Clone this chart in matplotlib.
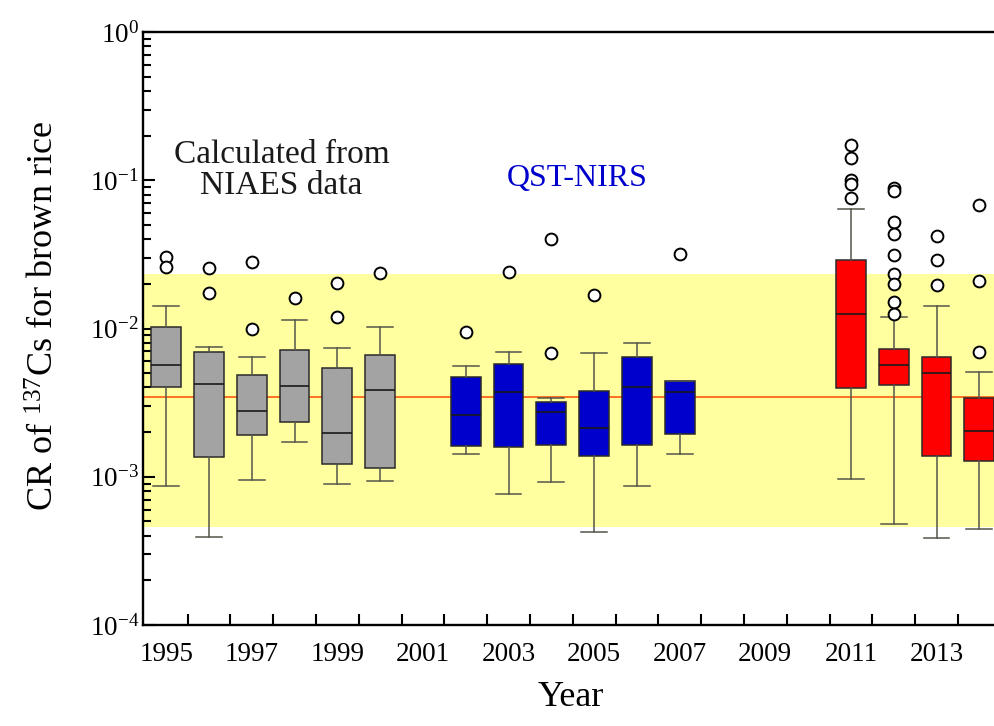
import matplotlib
matplotlib.use('Agg')
import matplotlib.pyplot as plt
import matplotlib.ticker as mticker
import numpy as np

plt.rcParams['font.family'] = ['Liberation Serif', 'DejaVu Serif']
plt.rcParams['mathtext.fontset'] = 'custom'
plt.rcParams['mathtext.rm'] = 'Liberation Serif'
plt.rcParams['axes.unicode_minus'] = False

# box statistics (CR values)
years = [1995, 1996, 1997, 1998, 1999, 2000,
         2002, 2003, 2004, 2005, 2006, 2007,
         2011, 2012, 2013, 2014]
whislo = [8.6e-4, 3.9e-4, 9.5e-4, 1.72e-3, 8.9e-4, 9.4e-4,
          1.42e-3, 7.7e-4, 9.2e-4, 4.25e-4, 8.7e-4, 1.42e-3,
          9.7e-4, 4.8e-4, 3.87e-4, 4.47e-4]
q1 = [4.0e-3, 1.35e-3, 1.91e-3, 2.35e-3, 1.21e-3, 1.14e-3,
      1.60e-3, 1.58e-3, 1.65e-3, 1.37e-3, 1.65e-3, 1.94e-3,
      3.96e-3, 4.16e-3, 1.39e-3, 1.28e-3]
med = [5.65e-3, 4.2e-3, 2.78e-3, 4.07e-3, 1.97e-3, 3.87e-3,
       2.61e-3, 3.75e-3, 2.72e-3, 2.13e-3, 4.05e-3, 3.75e-3,
       1.25e-2, 5.63e-3, 4.99e-3, 2.05e-3]
q3 = [1.02e-2, 6.98e-3, 4.83e-3, 7.16e-3, 5.41e-3, 6.62e-3,
      4.69e-3, 5.76e-3, 3.18e-3, 3.79e-3, 6.39e-3, 4.43e-3,
      2.90e-2, 7.32e-3, 6.41e-3, 3.42e-3]
whishi = [1.42e-2, 7.46e-3, 6.39e-3, 1.14e-2, 7.38e-3, 1.03e-2,
          5.58e-3, 6.9e-3, 3.4e-3, 6.87e-3, 8.02e-3, 4.43e-3,
          6.37e-2, 1.20e-2, 1.41e-2, 5.05e-3]
fliers = [[3.05e-2, 2.61e-2], [2.55e-2, 1.73e-2], [2.82e-2, 1.0e-2],
          [1.6e-2], [2.02e-2, 1.2e-2], [2.38e-2],
          [9.4e-3], [2.39e-2], [3.99e-2, 6.8e-3], [1.67e-2], [], [3.17e-2],
          [0.173, 0.141, 0.1004, 0.0944, 0.0759],
          [0.0884, 0.0847, 0.0519, 0.0435, 0.0311, 0.0233, 0.0200, 0.0151, 0.01246],
          [0.0418, 0.0292, 0.0198],
          [0.0685, 0.0208, 6.96e-3]]
groups = ['NIAES'] * 6 + ['QST'] * 6 + ['after'] * 4
group_colors = {'NIAES': '#A3A3A3', 'QST': '#0000CC', 'after': '#FF0000'}

band_low, band_high = 4.58e-4, 2.33e-2
ref_value = 3.43e-3

fig = plt.figure(figsize=(9.95, 7.26), dpi=100)
px = 42.8  # pixels per year
x0 = 1994.46
x1 = 2015.5
ax = fig.add_axes([143 / 995, 101 / 726, (x1 - x0) * px / 995, 593 / 726])

ax.axhspan(band_low, band_high, color='#FFFFA0', lw=0, zorder=0)
ax.axhline(ref_value, color='#FF4A00', lw=1.1, zorder=1)

stats = []
for i, y in enumerate(years):
    stats.append(dict(med=med[i], q1=q1[i], q3=q3[i],
                      whislo=whislo[i], whishi=whishi[i], fliers=fliers[i]))

bp = ax.bxp(stats, positions=years, widths=0.7, capwidths=0.6,
            patch_artist=True, manage_ticks=False,
            boxprops=dict(edgecolor='#2a2a2a', linewidth=1.1),
            medianprops=dict(color='#1a1a1a', linewidth=1.2),
            whiskerprops=dict(color='#55554a', linewidth=1.1),
            capprops=dict(color='#55554a', linewidth=1.1),
            flierprops=dict(marker='o', markerfacecolor='white',
                            markeredgecolor='black', markersize=8.5,
                            markeredgewidth=1.4))
for patch, g in zip(bp['boxes'], groups):
    patch.set_facecolor(group_colors[g])
for fl in bp['fliers']:
    fl.set_zorder(4)

ax.set_yscale('log')
ax.set_ylim(1e-4, 1)
ax.set_xlim(x0, x1)

ax.yaxis.set_major_locator(mticker.LogLocator(base=10, numticks=10))
ax.yaxis.set_minor_locator(mticker.LogLocator(base=10, subs=np.arange(2, 10), numticks=10))
ax.yaxis.set_minor_formatter(mticker.NullFormatter())

label_years = list(range(1995, 2015, 2))
ax.set_xticks(label_years)
ax.set_xticklabels([str(y) for y in label_years])
ax.set_xticks(np.arange(1995.5, 2015.5, 1.0), minor=True)

ax.tick_params(axis='x', which='major', length=0, labelsize=19.5, pad=12)
ax.tick_params(axis='x', which='minor', direction='in', length=8, width=1.5)
ax.tick_params(axis='y', which='major', direction='in', length=8.5, width=1.5,
               labelsize=19.5, pad=3)
ax.tick_params(axis='y', which='minor', direction='in', length=5.5, width=1.5)
for s in ax.spines.values():
    s.set_linewidth(1.7)

ax.text(1997.7, 0.117, 'Calculated from\nNIAES data', ha='center', va='center',
        fontsize=24, linespacing=1.05, color='#1a1a1a')
ax.text(2004.6, 0.1035, 'QST-NIRS', ha='center', va='center',
        fontsize=23, color='#0000CC')

fig.text(45 / 995, 1 - 316 / 726, r'CR of $\mathregular{^{137}}$Cs for brown rice',
         rotation=90, ha='center', va='center', fontsize=26)
fig.text(571 / 995, 1 - 697 / 726, 'Year', ha='center', va='center', fontsize=26)

fig.savefig('out.png', dpi=100)
